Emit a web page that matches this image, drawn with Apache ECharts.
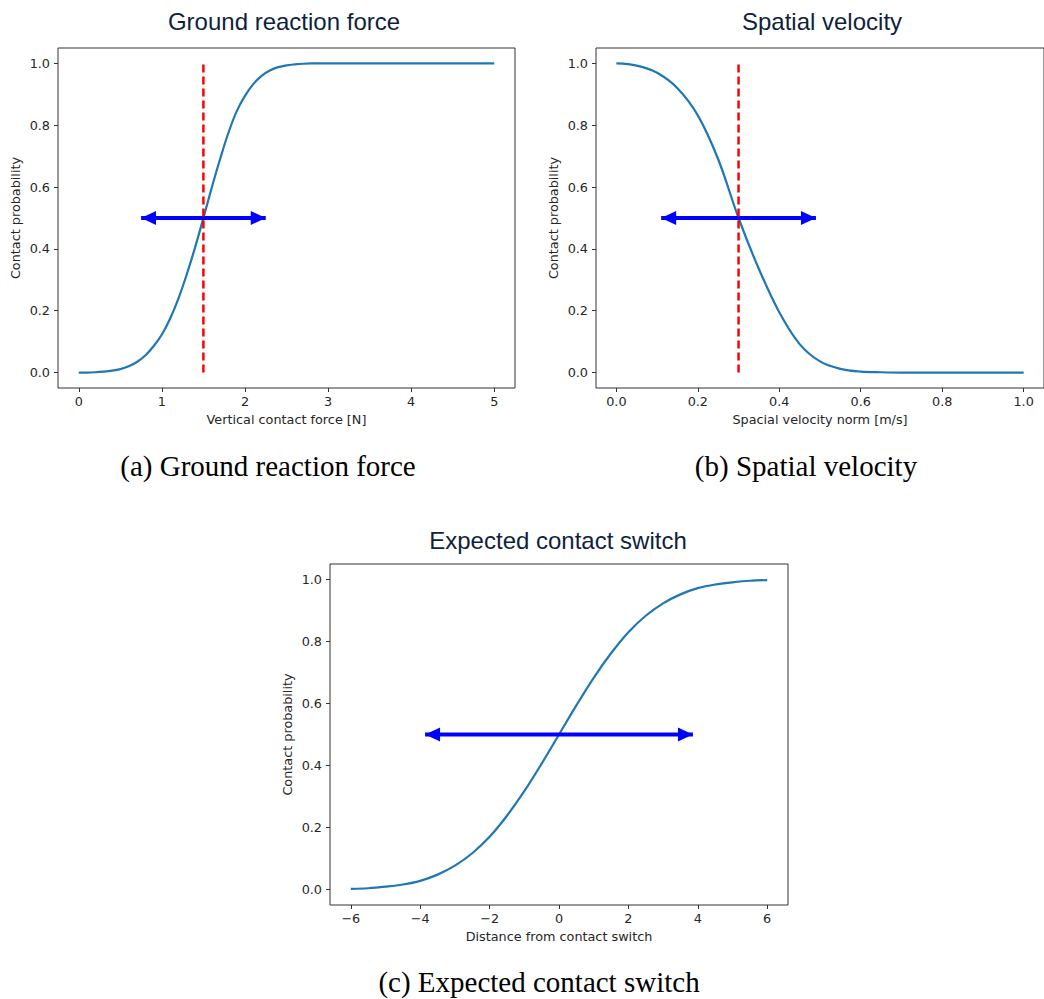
<!DOCTYPE html>
<html><head><meta charset="utf-8">
<script src="https://cdn.jsdelivr.net/npm/echarts@6/dist/echarts.min.js"></script>
<style>html,body{margin:0;padding:0;background:#fff}#c{width:1044px;height:999px}</style>
</head><body><div id="c"></div>
<script>
// ---- data ----
const forceX = [0,0.1,0.2,0.3,0.4,0.5,0.6,0.7,0.8,0.9,1.0,1.1,1.2,1.3,1.4,1.5,1.6,1.7,1.8,1.9,2.0,2.1,2.2,2.3,2.4,2.5,2.6,2.7,2.8,2.9,3.0,3.5,4.0,4.5,5.0];
const forceProb = [0.000,0.000,0.001,0.003,0.006,0.011,0.020,0.034,0.055,0.085,0.123,0.175,0.240,0.318,0.405,0.500,0.598,0.690,0.775,0.845,0.895,0.933,0.960,0.977,0.988,0.994,0.997,0.999,1.000,1.000,1.000,1.000,1.000,1.000,1.000];
const velX = [0,0.05,0.1,0.15,0.2,0.25,0.3,0.35,0.4,0.45,0.5,0.55,0.6,0.65,0.7,0.75,0.8,0.85,0.9,0.95,1.0];
const velProb = [1.000,0.993,0.970,0.920,0.832,0.690,0.500,0.335,0.195,0.092,0.036,0.012,0.003,0.001,0,0,0,0,0,0,0];
const distX = [-6,-5.5,-5,-4.5,-4,-3.5,-3,-2.5,-2,-1.5,-1,-0.5,0,0.5,1,1.5,2,2.5,3,3.5,4,4.5,5,5.5,6];
const distProb = [0.002,0.004,0.009,0.016,0.028,0.048,0.077,0.117,0.170,0.238,0.317,0.406,0.500,0.594,0.683,0.762,0.830,0.883,0.923,0.952,0.972,0.984,0.991,0.996,0.998];

const forceTicks = [0,1,2,3,4,5];
const velTicks = [0,0.2,0.4,0.6,0.8,1.0];
const distTicks = [-6,-4,-2,0,2,4,6];
const probTicks = [0,0.2,0.4,0.6,0.8,1.0];

const forceThreshold = 1.5;
const velThreshold = 0.3;
const thresholdSpan = [0, 1];
const arrowLevel = 0.5;
const forceArrow = [0.75, 2.25];
const velArrow = [0.11, 0.49];
const distArrow = [-3.86, 3.86];

const titles = ['Ground reaction force', 'Spatial velocity', 'Expected contact switch'];
const captions = ['(a) Ground reaction force', '(b) Spatial velocity', '(c) Expected contact switch'];
const xNames = ['Vertical contact force [N]', 'Spacial velocity norm [m/s]', 'Distance from contact switch'];
const yName = 'Contact probability';

// ---- chart ----
const chart = echarts.init(document.getElementById('c'), null, {renderer: 'svg'});
const tickFont = {fontFamily: 'DejaVu Sans', fontSize: 12.8, color: '#262626'};
const lineBlue = '#1f77b4';

function pairs(xs, ys) { return xs.map((x, i) => [x, ys[i]]); }

function xAxis(gi, min, max, ticks, fmt, name) {
  return {
    type: 'value', gridIndex: gi, min: min, max: max,
    name: name, nameLocation: 'middle', nameGap: 25,
    nameTextStyle: tickFont,
    axisLine: {show: false, onZero: false},
    axisTick: {show: true, inside: false, length: 4, customValues: ticks, lineStyle: {color: '#333', width: 1}},
    axisLabel: {show: true, customValues: ticks, formatter: fmt, margin: 7, ...tickFont},
    splitLine: {show: false}
  };
}
function yAxis(gi) {
  return {
    type: 'value', gridIndex: gi, min: -0.05, max: 1.05,
    name: yName, nameLocation: 'middle', nameGap: 36, nameRotate: 90,
    nameTextStyle: tickFont,
    axisLine: {show: false, onZero: false},
    axisTick: {show: true, inside: false, length: 4, customValues: probTicks, lineStyle: {color: '#333', width: 1}},
    axisLabel: {show: true, customValues: probTicks, formatter: v => v.toFixed(1), margin: 8, ...tickFont},
    splitLine: {show: false}
  };
}
function curve(gi, xs, ys) {
  return {type: 'line', xAxisIndex: gi, yAxisIndex: gi, data: pairs(xs, ys), showSymbol: false,
    smooth: 0.35, lineStyle: {color: lineBlue, width: 2.2}, silent: true, z: 2};
}
function arrow(gi, ends) {
  const head = [14, 15];
  return {type: 'line', xAxisIndex: gi, yAxisIndex: gi, silent: true, z: 3,
    lineStyle: {color: '#0000ff', width: 4},
    symbol: 'triangle', symbolSize: head, showSymbol: true,
    itemStyle: {color: '#0000ff', opacity: 1},
    data: [
      {value: [ends[0], arrowLevel], symbolRotate: 90, symbolOffset: [head[1] / 2, 0]},
      {value: [ends[1], arrowLevel], symbolRotate: -90, symbolOffset: [-head[1] / 2, 0]}
    ]};
}
function threshold(gi, x) {
  return {type: 'line', xAxisIndex: gi, yAxisIndex: gi, silent: true, z: 4, showSymbol: false,
    lineStyle: {color: '#ff0000', width: 2.5, type: [8, 4]},
    data: [[x, thresholdSpan[0]], [x, thresholdSpan[1]]]};
}

const minusFmt = v => (v < 0 ? '\u2212' + Math.abs(v) : String(v));

const titleStyle = {fontFamily: 'Liberation Sans', fontSize: 24, fill: '#0f1f3d'};
const captionStyle = {fontFamily: 'Liberation Serif', fontSize: 29, fill: '#000'};
function txt(text, x, y, st) {
  return {type: 'text', x: x, y: y, silent: true,
    style: Object.assign({text: text, textAlign: 'center', textVerticalAlign: 'middle'}, st)};
}

chart.setOption({
  animation: false,
  backgroundColor: '#fff',
  grid: [
    {left: 58, top: 48, width: 457, height: 340, show: true, borderColor: '#333', borderWidth: 1, backgroundColor: 'transparent'},
    {left: 596, top: 48, width: 456, height: 340, show: true, borderColor: '#333', borderWidth: 1, backgroundColor: 'transparent'},
    {left: 330, top: 564, width: 458, height: 341, show: true, borderColor: '#333', borderWidth: 1, backgroundColor: 'transparent'}
  ],
  xAxis: [
    xAxis(0, -0.25, 5.25, forceTicks, v => String(v), xNames[0]),
    xAxis(1, -0.05, 1.05, velTicks, v => v.toFixed(1), xNames[1]),
    xAxis(2, -6.6, 6.6, distTicks, minusFmt, xNames[2])
  ],
  yAxis: [yAxis(0), yAxis(1), yAxis(2)],
  series: [
    curve(0, forceX, forceProb), arrow(0, forceArrow), threshold(0, forceThreshold),
    curve(1, velX, velProb), arrow(1, velArrow), threshold(1, velThreshold),
    curve(2, distX, distProb), arrow(2, distArrow)
  ],
  graphic: [
    txt(titles[0], 284, 21, titleStyle),
    txt(titles[1], 822, 21, titleStyle),
    txt(titles[2], 558, 540, titleStyle),
    txt(captions[0], 268, 466, captionStyle),
    txt(captions[1], 806, 466, captionStyle),
    txt(captions[2], 539, 982, captionStyle)
  ]
});
</script></body></html>
